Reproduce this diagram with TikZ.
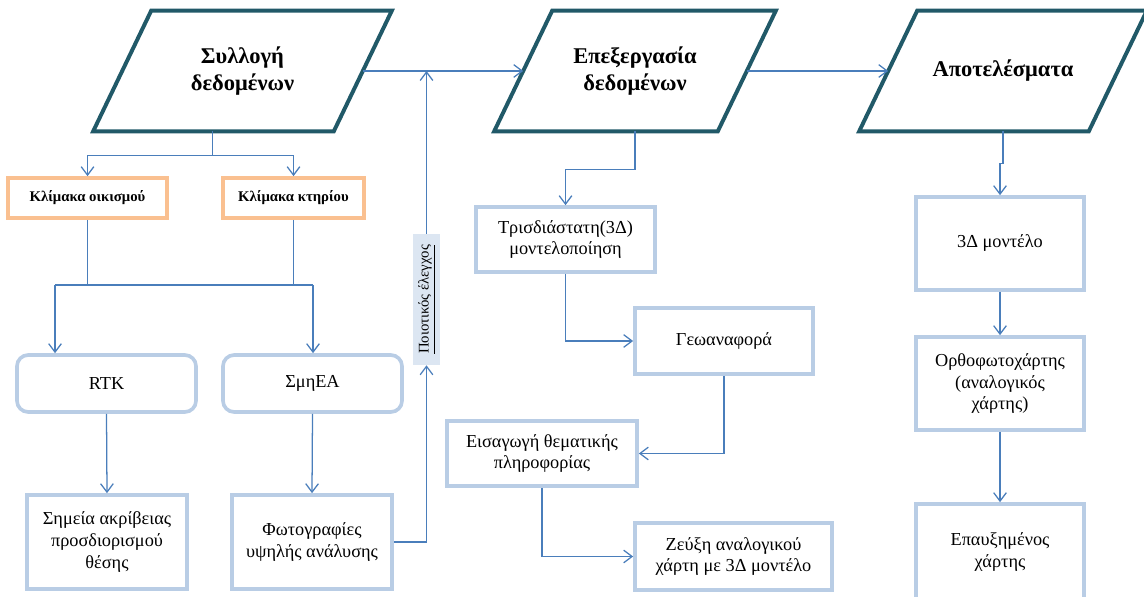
\documentclass[tikz,border=0pt]{standalone}
\usepackage{fontspec}
\usepackage{graphicx}
\setmainfont{Liberation Serif}
\usetikzlibrary{arrows.meta}
\definecolor{dunkeltuerkis}{RGB}{33,89,104}
\definecolor{pfeilblau}{RGB}{74,126,187}
\definecolor{rahmenblau}{RGB}{185,205,229}
\definecolor{rahmenorange}{RGB}{250,192,144}
\definecolor{hellblau}{RGB}{220,230,242}
\begin{document}
\begin{tikzpicture}[x=0.025cm,y=-0.025cm,
  haupt/.style={minimum height=3cm, align=center, font=\fontsize{16}{19}\selectfont\bfseries},
  rand/.style={draw=dunkeltuerkis, line width=2.8pt},
  massstab/.style={draw=rahmenorange, line width=2.6pt, minimum height=1cm,
    font=\fontsize{10.5}{12}\selectfont\bfseries},
  kasten/.style={draw=rahmenblau, line width=2.6pt, align=center,
    font=\fontsize{13}{15.4}\selectfont},
  rundkasten/.style={kasten, rounded corners=8pt},
  linie/.style={draw=pfeilblau, line width=0.9pt},
  pfeil/.style={linie, -{Straight Barb[length=6pt,width=9pt]}}]
\useasboundingbox (0,0) rectangle (1144,597);
% Hauptschritte (Parallelogramme):
\node[haupt, minimum width=6cm] (syllogi) at (242.5,71) {Συλλογή\\δεδομένων};
\node[haupt, minimum width=5.575cm] (epexergasia) at (635,71) {Επεξεργασία\\δεδομένων};
\node[haupt, minimum width=5.725cm] (apotelesmata) at (1003,71) {Αποτελέσματα};
\foreach \n in {syllogi,epexergasia,apotelesmata}
  \draw[rand] ([xshift=-0.725cm]\n.south west) -- ([xshift=0.725cm]\n.north west)
    -- ([xshift=0.725cm]\n.north east) -- ([xshift=-0.725cm]\n.south east) -- cycle;
\draw[pfeil] (syllogi.east) -- (epexergasia.west);
\draw[pfeil] (epexergasia.east) -- (apotelesmata.west);
% Erfassung:
\node[massstab, minimum width=3.975cm] (oikismos) at (87.5,198) {Κλίμακα οικισμού};
\node[massstab, minimum width=3.525cm] (ktirio) at (293.5,198) {Κλίμακα κτηρίου};
\node[rundkasten, minimum width=4.475cm, minimum height=1.425cm] (rtk) at (106.5,383.5) {RTK};
\node[rundkasten, minimum width=4.475cm, minimum height=1.425cm] (smhea) at (312.5,383.5) {ΣμηΕΑ};
\node[kasten, minimum width=4cm, minimum height=2.35cm] (simeia) at (107,542) {Σημεία ακρίβειας\\προσδιορισμού\\θέσης};
\node[kasten, minimum width=4cm, minimum height=2.35cm] (foto) at (312,542) {Φωτογραφίες\\υψηλής ανάλυσης};
\node[fill=hellblau, minimum width=0.675cm, minimum height=3.275cm, inner sep=0pt,
  font=\fontsize{10.5}{12}\selectfont] (qc) at (426.5,299.5) {\rotatebox{90}{\underline{Ποιοτικός έλεγχος}}};
\path (syllogi.south) ++(-30,24) coordinate (v1);
\coordinate (v2) at (55,285);
\coordinate (v3) at (313,285);
\draw[pfeil] (syllogi.south -| v1) -- (v1) -| (oikismos.north);
\draw[pfeil] (v1) -| (ktirio.north);
\draw[linie] (oikismos.south) -- (oikismos.south |- v2);
\draw[linie] (ktirio.south) -- (ktirio.south |- v3);
\draw[linie] (v2) -- (v3);
\draw[pfeil] (v2) -- (v2 |- rtk.north);
\draw[pfeil] (v3) -- (v3 |- smhea.north);
\draw[pfeil] (rtk.south) -- (simeia.north);
\draw[pfeil] (smhea.south) -- (foto.north);
\draw[pfeil] (foto.east) -| (qc.south);
\draw[pfeil] (qc.north) -- (qc.north |- epexergasia.west);
% Verarbeitung:
\node[kasten, minimum width=4.475cm, minimum height=1.625cm] (trisd) at (565.5,239.5) {Τρισδιάστατη(3Δ)\\μοντελοποίηση};
\node[kasten, minimum width=4.45cm, minimum height=1.65cm] (geo) at (724,341) {Γεωαναφορά};
\node[kasten, minimum width=4.75cm, minimum height=1.625cm] (eisag) at (542,453.5) {Εισαγωγή θεματικής\\πληροφορίας};
\node[kasten, minimum width=4.925cm, minimum height=1.675cm] (zeuxi) at (733.5,556.5) {Ζεύξη αναλογικού\\χάρτη με 3Δ μοντέλο};
\draw[pfeil] (epexergasia.south) -- ++(0,38) -| (trisd.north);
\draw[pfeil] (trisd.south) |- (geo.west);
\draw[pfeil] (geo.south) |- (eisag.east);
\draw[pfeil] (eisag.south) |- (zeuxi.west);
% Ergebnisse:
\node[kasten, minimum width=4.2cm, minimum height=2.325cm] (modell) at (1000,243.5) {3Δ μοντέλο};
\node[kasten, minimum width=4.2cm, minimum height=2.325cm] (ortho) at (1000,383.5) {Ορθοφωτοχάρτης\\(αναλογικός\\χάρτης)};
\node[kasten, minimum width=4.2cm, minimum height=2.4cm] (epauxi) at (1000,552) {Επαυξημένος\\χάρτης};
\draw[pfeil] (apotelesmata.south) -- ++(0,32) -| (modell.north);
\draw[pfeil] (modell) -- (ortho);
\draw[pfeil] (ortho) -- (epauxi);
\end{tikzpicture}
\end{document}
